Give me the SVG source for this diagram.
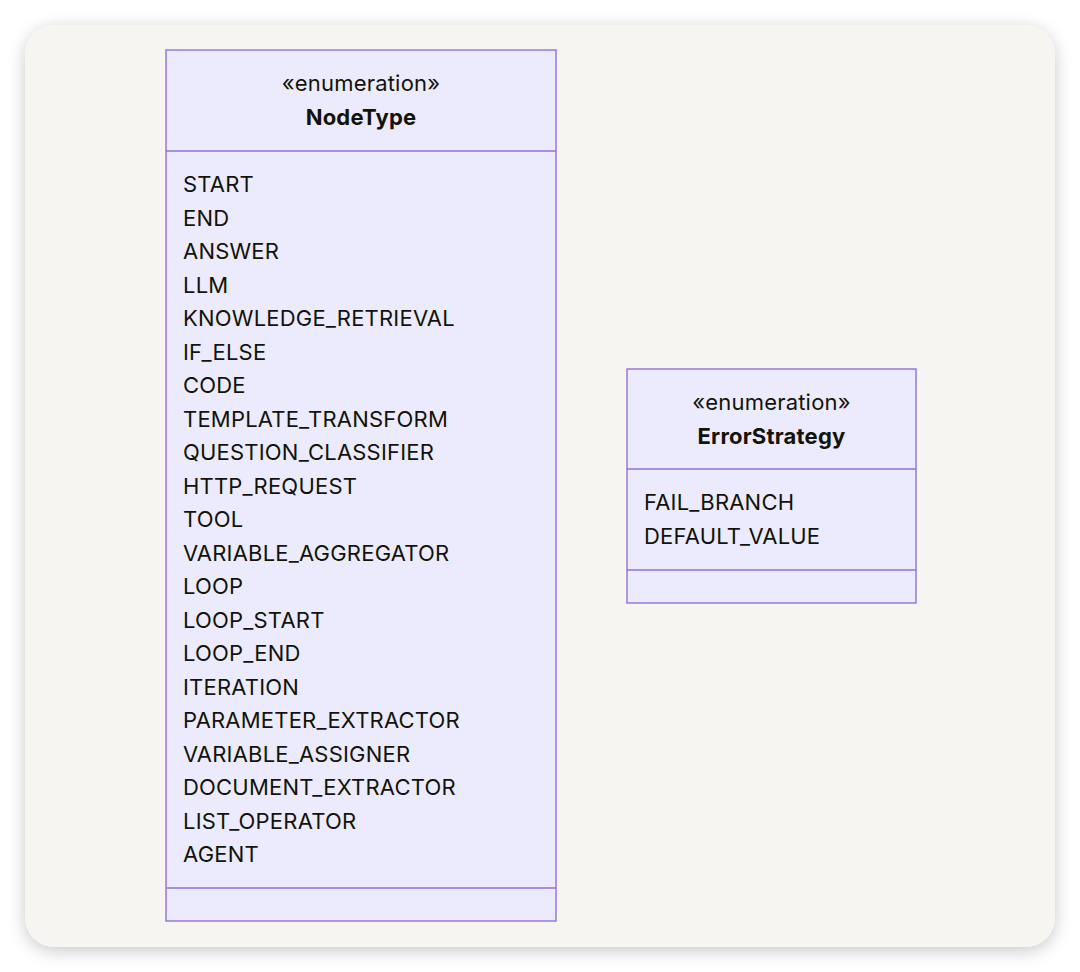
<svg xmlns="http://www.w3.org/2000/svg" width="1080" height="972" viewBox="0 0 1080 972">
<defs>
<filter id="sh" x="-10%" y="-10%" width="120%" height="120%">
<feGaussianBlur in="SourceAlpha" stdDeviation="9"/>
<feOffset dx="0" dy="4"/>
<feComponentTransfer><feFuncA type="linear" slope="0.22"/></feComponentTransfer>
<feMerge><feMergeNode/><feMergeNode in="SourceGraphic"/></feMerge>
</filter>
<style>
.box{fill:#ECEBFD;stroke:#9370DB;stroke-width:1.4}
.ln{stroke:#9370DB;stroke-width:1.4}
text{font-family:Inter,"Noto Sans","Liberation Sans",sans-serif;font-size:22px;letter-spacing:0.2px;fill:#131309}
.c{text-anchor:middle}
.b{font-weight:bold}
</style>
</defs>
<rect width="1080" height="972" fill="#ffffff"/>
<rect x="25" y="25" width="1030" height="922" rx="30" fill="#F6F5F2" filter="url(#sh)"/>
<g id="connectors"/>
<g id="NodeType">
<rect class="box" x="166" y="50" width="390" height="871"/>
<line class="ln" x1="166" y1="151" x2="556" y2="151"/>
<line class="ln" x1="166" y1="888" x2="556" y2="888"/>
<text class="c" x="361" y="91">«enumeration»</text>
<text class="c b" x="361" y="125">NodeType</text>
<text x="183" y="192">START</text>
<text x="183" y="225.5">END</text>
<text x="183" y="259">ANSWER</text>
<text x="183" y="292.5">LLM</text>
<text x="183" y="326">KNOWLEDGE_RETRIEVAL</text>
<text x="183" y="359.5">IF_ELSE</text>
<text x="183" y="393">CODE</text>
<text x="183" y="426.5">TEMPLATE_TRANSFORM</text>
<text x="183" y="460">QUESTION_CLASSIFIER</text>
<text x="183" y="493.5">HTTP_REQUEST</text>
<text x="183" y="527">TOOL</text>
<text x="183" y="560.5">VARIABLE_AGGREGATOR</text>
<text x="183" y="594">LOOP</text>
<text x="183" y="627.5">LOOP_START</text>
<text x="183" y="661">LOOP_END</text>
<text x="183" y="694.5">ITERATION</text>
<text x="183" y="728">PARAMETER_EXTRACTOR</text>
<text x="183" y="761.5">VARIABLE_ASSIGNER</text>
<text x="183" y="795">DOCUMENT_EXTRACTOR</text>
<text x="183" y="828.5">LIST_OPERATOR</text>
<text x="183" y="862">AGENT</text>
</g>
<g id="ErrorStrategy">
<rect class="box" x="627" y="369" width="289" height="234"/>
<line class="ln" x1="627" y1="469" x2="916" y2="469"/>
<line class="ln" x1="627" y1="570" x2="916" y2="570"/>
<text class="c" x="771.5" y="410">«enumeration»</text>
<text class="c b" x="771.5" y="444">ErrorStrategy</text>
<text x="644" y="510">FAIL_BRANCH</text>
<text x="644" y="544">DEFAULT_VALUE</text>
</g>
</svg>
